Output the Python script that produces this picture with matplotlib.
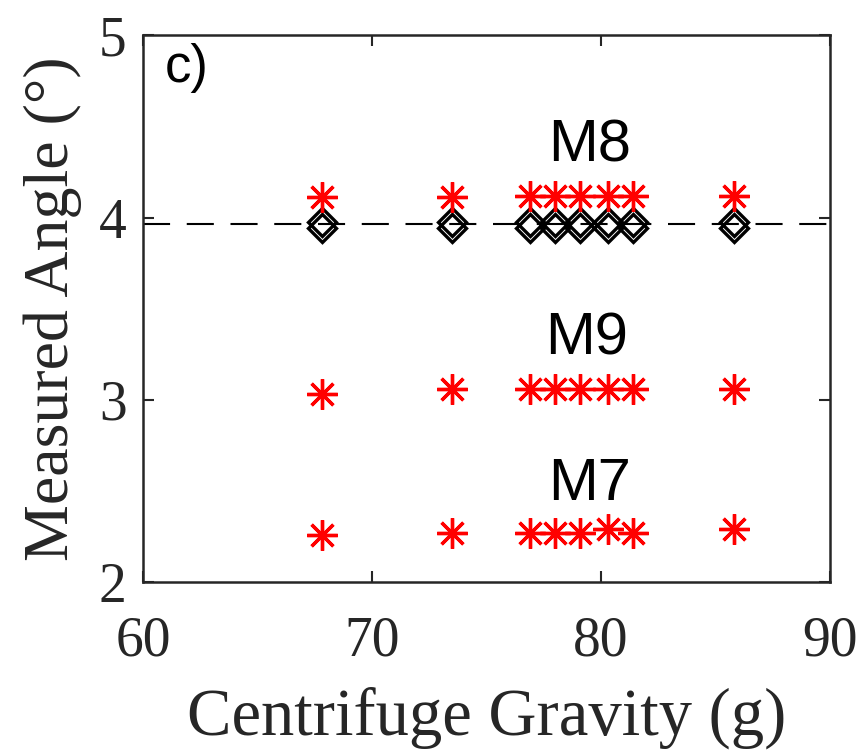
import matplotlib.pyplot as plt
import numpy as np

# centrifuge gravity levels (g)
gravity = [67.8, 73.5, 76.9, 78.0, 79.1, 80.3, 81.4, 85.8]

# measured angles (deg)
m8 = [4.11, 4.11, 4.12, 4.12, 4.12, 4.12, 4.12, 4.12]
m9 = [3.03, 3.06, 3.06, 3.06, 3.06, 3.06, 3.06, 3.06]
m7 = [2.26, 2.27, 2.27, 2.27, 2.27, 2.29, 2.27, 2.29]
ref_a = [3.975, 3.975, 3.975, 3.975, 3.975, 3.975, 3.975, 3.975]
ref_b = [3.945, 3.945, 3.945, 3.945, 3.945, 3.945, 3.945, 3.945]
ref_line = 3.967

serif = ["Liberation Serif", "DejaVu Serif"]
sans = ["Liberation Sans", "DejaVu Sans"]

fig = plt.figure(figsize=(8.67, 7.51), dpi=100)
ax = fig.add_axes([0.165, 0.225, 0.792, 0.728])

ax.axhline(ref_line, color="black", lw=1.5, ls=(0, (13, 8)), zorder=1)

star = (8, 2, 0)
for vals in (m8, m9, m7):
    ax.plot(gravity, vals, ls="none", marker=star, ms=22, mew=2.4,
            color="red", zorder=3)

for vals in (ref_a, ref_b):
    ax.plot(gravity, vals, ls="none", marker="D", ms=14, mew=2.4,
            mfc="none", mec="black", zorder=2)

ax.text(79.5, 4.31, "M8", fontsize=43, family=sans, ha="center", va="baseline")
ax.text(79.4, 3.25, "M9", fontsize=43, family=sans, ha="center", va="baseline")
ax.text(79.5, 2.45, "M7", fontsize=43, family=sans, ha="center", va="baseline")
ax.text(0.032, 0.915, "c)", fontsize=38, family=sans, transform=ax.transAxes,
        ha="left", va="baseline")

ax.set_xlim(60, 90)
ax.set_ylim(2, 5)
ax.set_xticks([60, 70, 80, 90])
ax.set_yticks([2, 3, 4, 5])

for s in ax.spines.values():
    s.set_linewidth(1.8)
    s.set_color("#262626")
ax.tick_params(direction="in", length=8, width=1.5, color="#262626",
               top=True, right=True)
ax.tick_params(axis="x", pad=24)
ax.tick_params(axis="y", pad=12)
for lab in ax.get_xticklabels() + ax.get_yticklabels():
    lab.set_family(serif)
    lab.set_fontsize(40)
    lab.set_color("#262626")

ax.set_xlabel("Centrifuge Gravity (g)", fontsize=48, family=serif, color="#262626", labelpad=14)
ax.set_ylabel("Measured Angle (°)", fontsize=46, family=serif, color="#262626", labelpad=12)

fig.savefig("out.png", dpi=100)
